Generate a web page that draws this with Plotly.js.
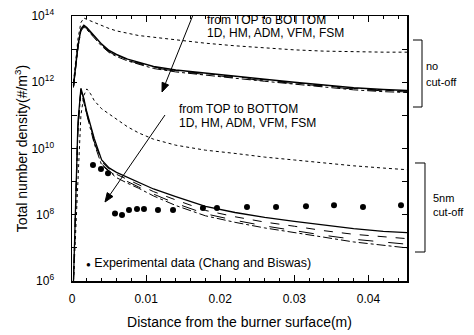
<!DOCTYPE html>
<html>
<head>
<meta charset="utf-8">
<script src="https://cdn.plot.ly/plotly-3.0.1.min.js"></script>
<style>html,body{margin:0;padding:0;background:#fff;}#chart{width:474px;height:335px;}</style>
</head>
<body>
<div id="chart"></div>
<script>
// Distance from burner surface (m) for model curves
const xModel = [0.0002, 0.0005, 0.0008, 0.0012, 0.0016, 0.002, 0.0025, 0.003, 0.004, 0.005, 0.006, 0.0075, 0.009, 0.011, 0.014, 0.018, 0.022, 0.026, 0.030, 0.034, 0.038, 0.042, 0.0452];

// No cut-off
const noCut1D  = [1.0e12, 5.0e12, 2.0e13, 6.3e13, 8.7e13, 7.9e13, 7.1e13, 6.3e13, 5.0e13, 4.2e13, 3.55e13, 2.95e13, 2.57e13, 2.29e13, 1.91e13, 1.51e13, 1.26e13, 1.07e13, 9.5e12, 8.7e12, 8.3e12, 8.1e12, 8.1e12];
const noCutHM  = [7.9e11, 3.2e12, 1.26e13, 4.0e13, 5.25e13, 4.47e13, 3.31e13, 2.51e13, 1.41e13, 9.1e12, 6.9e12, 5.0e12, 4.0e12, 3.0e12, 2.34e12, 1.86e12, 1.51e12, 1.23e12, 1.0e12, 8.1e11, 6.8e11, 6.0e11, 5.6e11];
const noCutADM = [7.5e11, 3.0e12, 1.2e13, 3.8e13, 5.0e13, 4.3e13, 3.2e13, 2.4e13, 1.35e13, 8.8e12, 6.6e12, 4.8e12, 3.85e12, 2.9e12, 2.25e12, 1.8e12, 1.45e12, 1.18e12, 9.6e11, 7.8e11, 6.5e11, 5.75e11, 5.35e11];
const noCutVFM = [7.2e11, 2.9e12, 1.15e13, 3.65e13, 4.8e13, 4.1e13, 3.0e13, 2.3e13, 1.29e13, 8.3e12, 6.3e12, 4.6e12, 3.65e12, 2.75e12, 2.15e12, 1.7e12, 1.38e12, 1.12e12, 9.1e11, 7.4e11, 6.2e11, 5.5e11, 5.1e11];
const noCutFSM = [6.9e11, 2.8e12, 1.1e13, 3.5e13, 4.6e13, 3.9e13, 2.9e13, 2.2e13, 1.23e13, 7.9e12, 6.0e12, 4.4e12, 3.5e12, 2.6e12, 2.05e12, 1.62e12, 1.32e12, 1.07e12, 8.7e11, 7.1e11, 5.9e11, 5.2e11, 4.9e11];

// 5 nm cut-off
const cut1D  = [1.0e6, 3.2e7, 3.2e9, 1.0e11, 4.0e11, 6.3e11, 4.5e11, 2.8e11, 1.58e11, 1.1e11, 7.9e10, 4.5e10, 2.95e10, 1.91e10, 1.26e10, 8.9e9, 7.1e9, 5.5e9, 4.5e9, 3.6e9, 3.0e9, 2.57e9, 2.29e9];
const cutHM  = [1.0e6, 3.2e8, 6.3e10, 6.6e11, 3.2e11, 1.26e11, 5.0e10, 2.0e10, 4.5e9, 2.6e9, 1.9e9, 1.35e9, 1.0e9, 6.0e8, 3.55e8, 1.78e8, 1.17e8, 8.3e7, 6.3e7, 4.8e7, 3.8e7, 3.16e7, 2.9e7];
const cutADM = [1.0e6, 2.5e8, 5.0e10, 6.3e11, 3.0e11, 1.17e11, 4.6e10, 1.82e10, 4.0e9, 2.34e9, 1.66e9, 1.15e9, 8.3e8, 5.0e8, 2.8e8, 1.35e8, 8.7e7, 6.0e7, 4.5e7, 3.3e7, 2.57e7, 2.14e7, 1.9e7];
const cutVFM = [1.0e6, 2.0e8, 4.0e10, 6.0e11, 2.8e11, 1.07e11, 4.2e10, 1.58e10, 3.4e9, 2.1e9, 1.45e9, 9.8e8, 6.9e8, 4.2e8, 2.2e8, 1.07e8, 6.8e7, 4.6e7, 3.3e7, 2.4e7, 1.82e7, 1.48e7, 1.29e7];
const cutFSM = [1.0e6, 1.58e8, 3.16e10, 5.6e11, 2.6e11, 1.0e11, 3.8e10, 1.41e10, 3.16e9, 2.0e9, 1.32e9, 8.9e8, 6.3e8, 3.7e8, 1.9e8, 9.3e7, 5.9e7, 4.0e7, 2.95e7, 2.1e7, 1.51e7, 1.17e7, 1.0e7];

// Experimental data (Chang and Biswas)
const xExp = [0.00283, 0.00391, 0.00486, 0.0058, 0.00675, 0.00769, 0.00877, 0.00971, 0.0116, 0.01363, 0.01767, 0.01956, 0.02361, 0.02753, 0.03157, 0.03535, 0.03926, 0.04439];
const yExp = [3.2e9, 2.4e9, 1.8e9, 1.1e8, 9.8e7, 1.4e8, 1.5e8, 1.5e8, 1.4e8, 1.4e8, 1.6e8, 1.6e8, 1.7e8, 1.7e8, 1.8e8, 1.95e8, 1.7e8, 1.95e8];

// Axis ticks
const yTickVals = [1e6, 1e7, 1e8, 1e9, 1e10, 1e11, 1e12, 1e13, 1e14];
const yTickText = ['10<sup>6</sup>', '', '10<sup>8</sup>', '', '10<sup>10</sup>', '', '10<sup>12</sup>', '', '10<sup>14</sup>'];
const xTickVals = [0, 0.01, 0.02, 0.03, 0.04];
const xTickText = ['0', '0.01', '0.02', '0.03', '0.04'];

const FONT = 'Liberation Sans, Arial, Helvetica, sans-serif';

function line(y, dash, width) {
  return {x: xModel, y: y, type: 'scatter', mode: 'lines', showlegend: false,
          line: {color: '#000', dash: dash, width: width}};
}

const traces = [
  line(noCut1D, 'dot', 1),
  line(noCutHM, 'solid', 1.5),
  line(noCutADM, 'dash', 1),
  line(noCutVFM, 'longdash', 1),
  line(noCutFSM, 'dashdot', 1),
  line(cut1D, 'dot', 1),
  line(cutHM, 'solid', 1.3),
  line(cutADM, 'dash', 1),
  line(cutVFM, 'longdash', 1),
  line(cutFSM, 'dashdot', 1),
  {x: xExp, y: yExp, type: 'scatter', mode: 'markers', showlegend: false,
   marker: {color: '#000', size: 6, symbol: 'circle'}}
];

function txt(x, y, t, size, xanchor) {
  return {xref: 'paper', yref: 'paper', x: x, y: y, text: t, showarrow: false,
          xanchor: xanchor || 'left', yanchor: 'middle',
          font: {family: FONT, size: size || 12, color: '#000'}};
}

const annotations = [
  txt(0.397, 0.985, 'from TOP to BOTTOM'),
  txt(0.397, 0.936, '1D, HM, ADM, VFM, FSM'),
  txt(0.3134, 0.649, 'from TOP to BOTTOM'),
  txt(0.3134, 0.596, '1D, HM, ADM, VFM, FSM'),
  txt(0.036, 0.068, '<span style="font-size:8px">●</span> Experimental data (Chang and Biswas)', 12.5),
  txt(1.05, 0.811, 'no', 11),
  txt(1.05, 0.751, 'cut-off', 11),
  txt(1.071, 0.313, '5nm', 11),
  txt(1.071, 0.260, 'cut-off', 11)
];

const shapes = [
  // brackets
  {type: 'path', xref: 'paper', yref: 'paper',
   path: 'M 1.0179 0.9094 L 1.0448 0.9094 L 1.0448 0.6566 L 1.0179 0.6566',
   line: {color: '#000', width: 1}},
  {type: 'path', xref: 'paper', yref: 'paper',
   path: 'M 1.0239 0.4453 L 1.0537 0.4453 L 1.0537 0.1094 L 1.0239 0.1094',
   line: {color: '#000', width: 1}},
  // arrow 1 (upper)
  {type: 'line', xref: 'paper', yref: 'paper', x0: 0.3612, y0: 1.0038, x1: 0.2787, y1: 0.7447,
   line: {color: '#000', width: 1}},
  {type: 'path', xref: 'paper', yref: 'paper', path: 'M 0.2687 0.7132 L 0.2884 0.7398 L 0.2690 0.7498 Z',
   fillcolor: '#000', line: {color: '#000', width: 1}},
  // arrow 2 (lower)
  {type: 'line', xref: 'paper', yref: 'paper', x0: 0.2776, y0: 0.6264, x1: 0.1138, y1: 0.3261,
   line: {color: '#000', width: 1}},
  {type: 'path', xref: 'paper', yref: 'paper', path: 'M 0.0985 0.2981 L 0.1223 0.3186 L 0.1052 0.3336 Z',
   fillcolor: '#000', line: {color: '#000', width: 1}}
];

const layout = {
  width: 474, height: 335,
  margin: {l: 72, r: 67, t: 16, b: 54, pad: 0},
  paper_bgcolor: '#fff', plot_bgcolor: '#fff',
  font: {family: FONT, color: '#000', size: 12},
  showlegend: false,
  xaxis: {
    range: [0, 0.0452], showgrid: false, zeroline: false,
    showline: true, linecolor: '#000', linewidth: 1.5, mirror: 'ticks',
    ticks: 'inside', ticklen: 6, tickwidth: 1, tickcolor: '#000',
    tickmode: 'array', tickvals: xTickVals, ticktext: xTickText,
    ticklabelstandoff: 6,
    minor: {dtick: 0.002, ticks: 'inside', ticklen: 3, tickwidth: 1, tickcolor: '#000', showgrid: false},
    tickfont: {family: FONT, size: 12},
    title: {text: 'Distance from the burner surface(m)', font: {family: FONT, size: 14}, standoff: 12}
  },
  yaxis: {
    type: 'log', range: [6, 14], showgrid: false, zeroline: false,
    showline: true, linecolor: '#000', linewidth: 1.5, mirror: 'ticks',
    ticks: 'inside', ticklen: 5, tickwidth: 1, tickcolor: '#000',
    tickmode: 'array', tickvals: yTickVals, ticktext: yTickText,
    ticklabelstandoff: 14,
    tickfont: {family: FONT, size: 12},
    title: {text: 'Total number density(#/m<sup>3</sup>)', font: {family: FONT, size: 14}, standoff: 0}
  },
  annotations: annotations,
  shapes: shapes
};

Plotly.newPlot('chart', traces, layout, {staticPlot: true, displayModeBar: false});
</script>
</body>
</html>
